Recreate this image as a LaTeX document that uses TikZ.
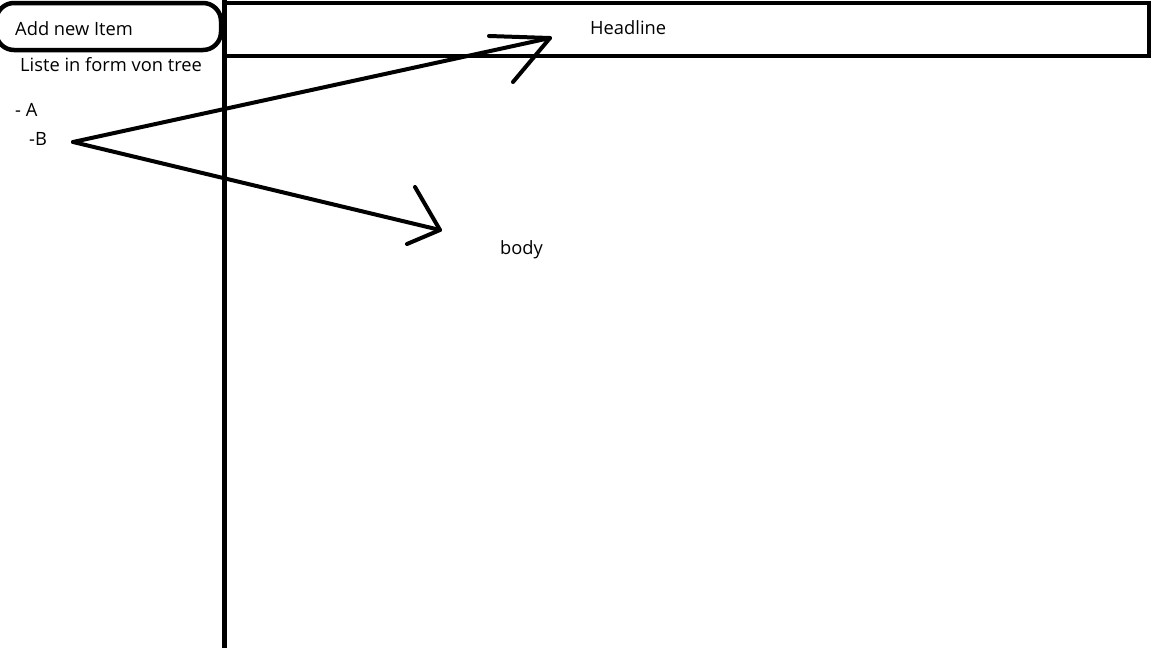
\documentclass[tikz,border=0pt]{standalone}
\usepackage{fontspec}
\setmainfont{Open Sans}
\begin{document}
\begin{tikzpicture}[x=1pt,y=-1pt,
  stroke/.style={line width=4pt,line cap=round,line join=round},
  lbl/.style={inner sep=0pt,anchor=west,font=\fontsize{18.3pt}{21pt}\selectfont}]
\useasboundingbox (0,0) rectangle (1152,648);
\fill[white] (0,0) rectangle (1152,648);
% Add new item box
\draw[line width=4.5pt,rounded corners=18pt] (-4,3) rectangle (221,50);
% headline box
\draw[line width=4pt] (224,2.5) rectangle (1149,55.5);
% vertical divider
\draw[line width=5pt] (224,0) -- (224,650);
% texts
\node[lbl] (add) at (15,29) {Add new Item};
\node[lbl] (liste) at (20,65) {Liste in form von tree};
\node[lbl] (a) at (15,110) {- A};
\node[lbl] (b) at (29,139) {-B};
\node[lbl] (head) at (590,28) {Headline};
\node[lbl] (body) at (500,250) {body};
% arrows
\coordinate (start) at (73,142);
\coordinate (tipH) at (550,38);
\coordinate (h1) at (489,36);
\coordinate (h2) at (513,82);
\coordinate (tipB) at (440,230);
\coordinate (b1) at (415,187);
\coordinate (b2) at (407,244);
\draw[stroke] (start) -- (tipH);
\draw[stroke] (h1) -- (tipH) -- (h2);
\draw[stroke] (start) -- (tipB);
\draw[stroke] (b1) -- (tipB) -- (b2);
\end{tikzpicture}
\end{document}
